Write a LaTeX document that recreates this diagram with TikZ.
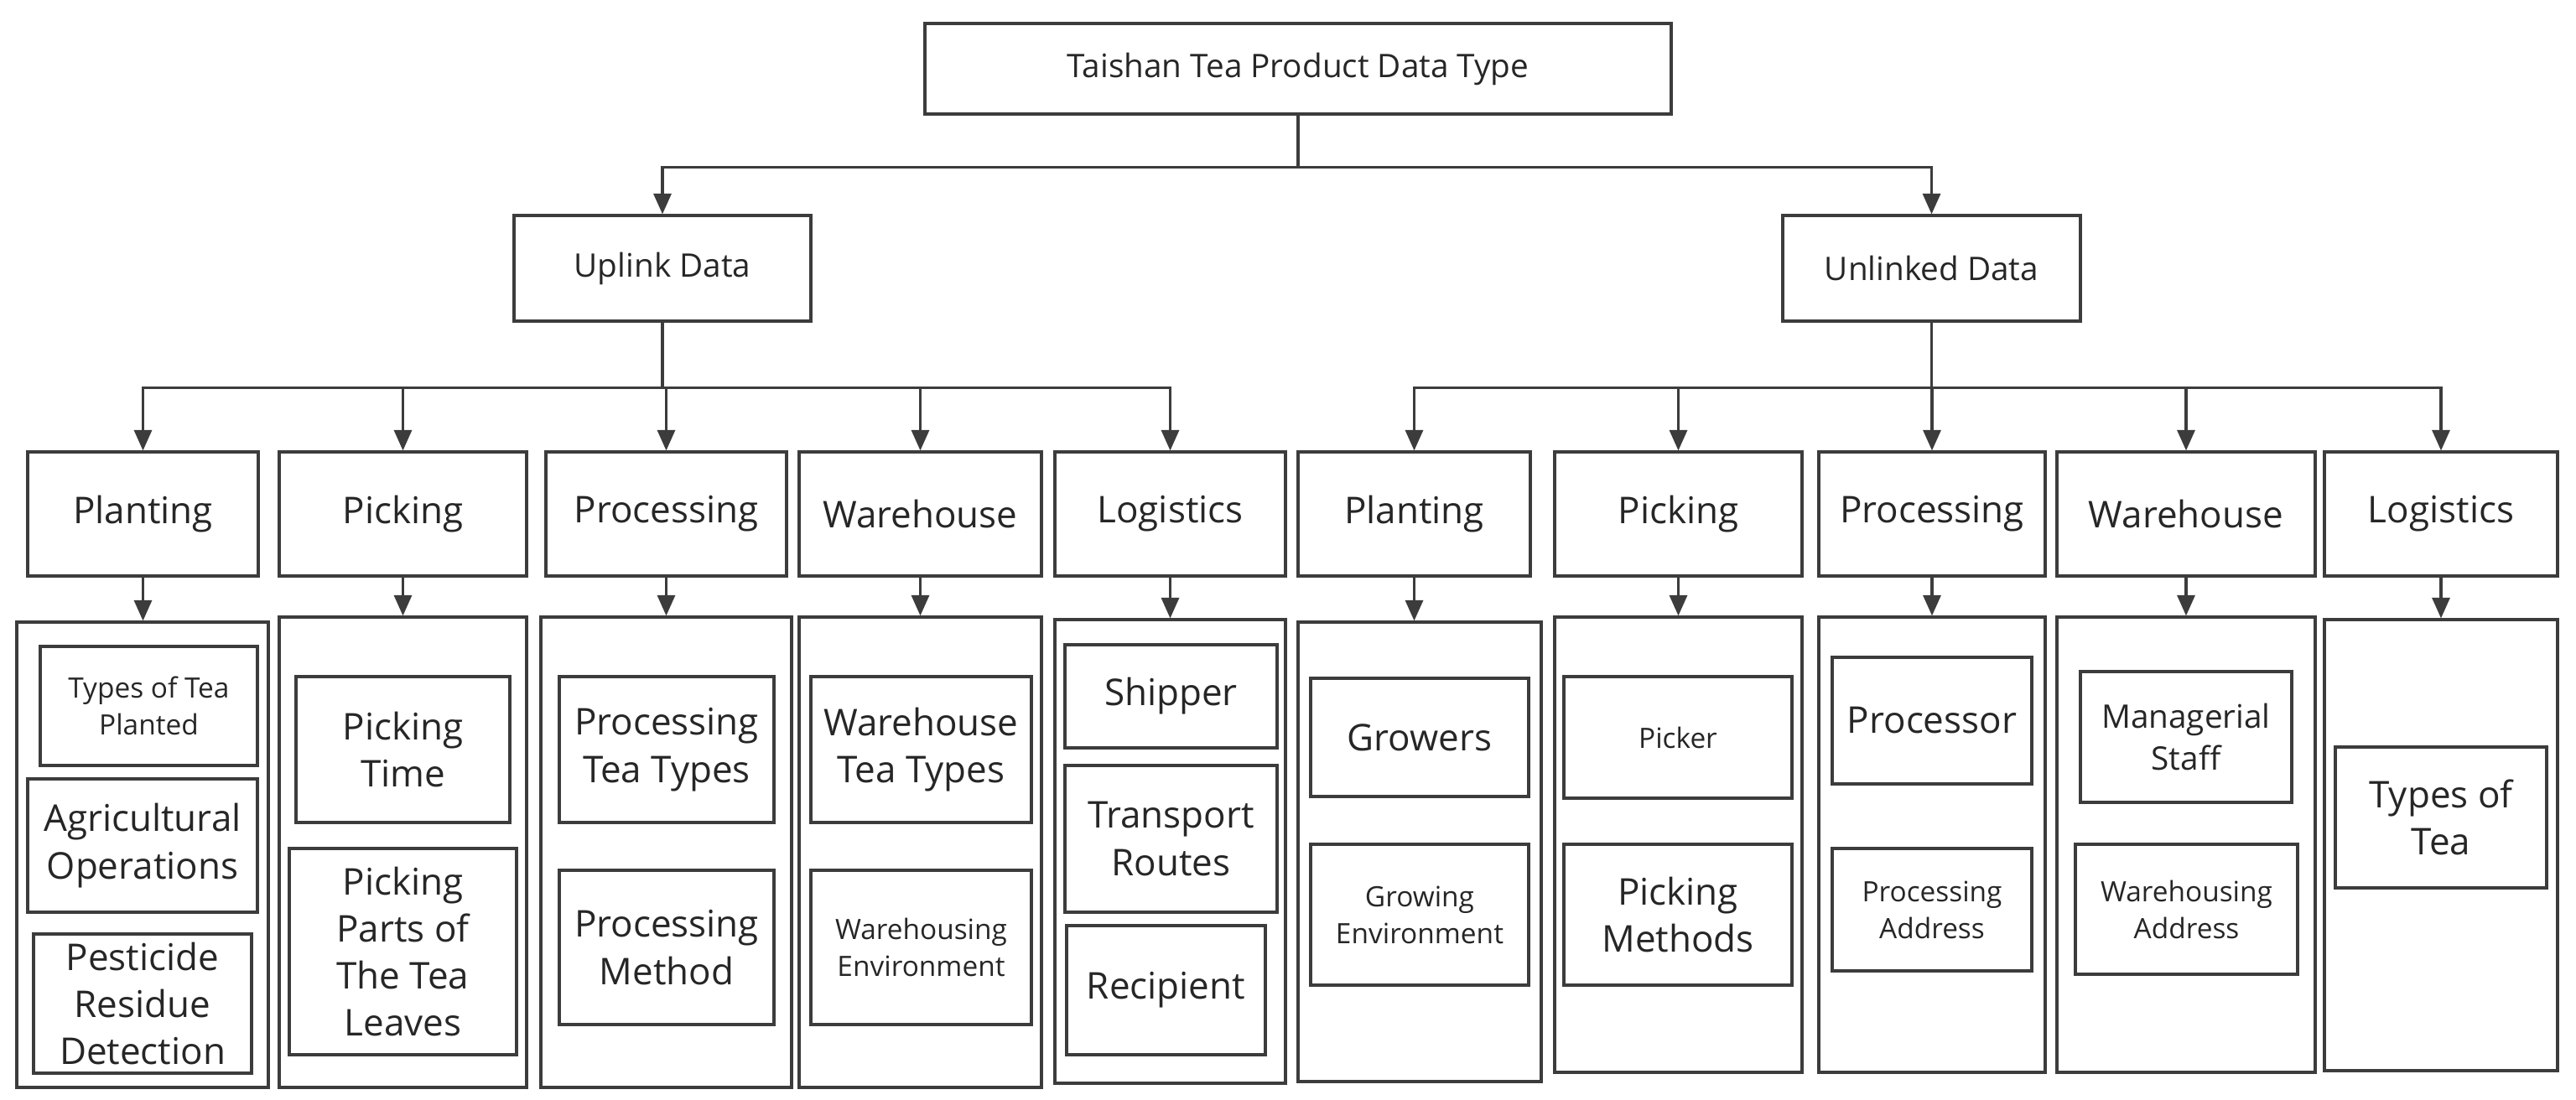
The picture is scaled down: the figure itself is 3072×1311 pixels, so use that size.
\documentclass[tikz,border=0pt]{standalone}
\usepackage{fontspec}
\setmainfont{Open Sans}
\usetikzlibrary{arrows.meta}
\definecolor{linegray}{RGB}{60,60,60}
\tikzset{
  box/.style = {rectangle, draw=linegray, line width=0.9pt, align=center, inner sep=0pt, text=black!85},
  arrow/.style = {draw=linegray, line width=0.9pt, -{Triangle[length=7pt,width=6pt]}},
  big/.style = {font=\fontsize{12.5}{16}\selectfont},
  mid/.style = {font=\fontsize{11}{14}\selectfont},
  small/.style = {font=\fontsize{9.5}{12.5}\selectfont}
}
% box from its corners in pixels of the reference
\newcommand{\bx}[7][big]{%
  \node[box,#1,minimum width={(#5-#3)*0.01cm},minimum height={(#6-#4)*0.01cm}]
    (#2) at ({(#3+#5)/2},{(#4+#6)/2}) {#7};}
\begin{document}
\begin{tikzpicture}[x=0.01cm,y=-0.01cm]
  \useasboundingbox (0,0) rectangle (3072,1311);
  % top levels
  \bx[mid]{root}{1103}{28}{1993}{136}{Taishan Tea Product Data Type}
  \bx[mid]{up}{613}{257}{967}{383}{Uplink Data}
  \bx[mid]{un}{2126}{257}{2481}{383}{Unlinked Data}
  \draw[arrow] (root.south) -- ++(0,62) -| (up.north);
  \draw[arrow] (root.south) -- ++(0,62) -| (un.north);
  % uplink stages
  \bx{lpl}{33}{539}{308}{687}{Planting}
  \bx{lpi}{333}{539}{628}{687}{Picking}
  \bx{lpr}{651}{539}{938}{687}{Processing}
  \bx{lwa}{953}{539}{1242}{687}{Warehouse}
  \bx{llo}{1258}{539}{1533}{687}{Logistics}
  % unlinked stages
  \bx{rpl}{1548}{539}{1825}{687}{Planting}
  \bx{rpi}{1854}{539}{2149}{687}{Picking}
  \bx{rpr}{2169}{539}{2439}{687}{Processing}
  \bx{rwa}{2453}{539}{2761}{687}{Warehouse}
  \bx{rlo}{2772}{539}{3050}{687}{Logistics}
  % containers
  \bx{lplc}{20}{742}{320}{1297}{}
  \bx{lpic}{333}{736}{628}{1297}{}
  \bx{lprc}{645}{736}{944}{1297}{}
  \bx{lwac}{953}{736}{1242}{1297}{}
  \bx{lloc}{1258}{739}{1533}{1292}{}
  \bx{rplc}{1548}{742}{1838}{1290}{}
  \bx{rpic}{1854}{736}{2149}{1279}{}
  \bx{rprc}{2169}{736}{2439}{1279}{}
  \bx{rwac}{2453}{736}{2761}{1279}{}
  \bx{rloc}{2772}{739}{3050}{1277}{}
  \foreach \s in {lpl,lpi,lpr,lwa,llo} {
    \draw[arrow] (up.south) -- ++(0,78) -| (\s.north);
    \draw[arrow] (\s.south) -- (\s.south |- \s c.north);
  }
  \foreach \s in {rpl,rpi,rpr,rwa,rlo} {
    \draw[arrow] (un.south) -- ++(0,78) -| (\s.north);
    \draw[arrow] (\s.south) -- (\s.south |- \s c.north);
  }
  % uplink items
  \bx[small]{tp}{48}{771}{307}{913}{Types of Tea\\Planted}
  \bx{ao}{33}{929}{307}{1088}{Agricultural\\Operations}
  \bx{prd}{40}{1114}{300}{1280}{Pesticide\\Residue\\Detection}
  \bx{pt}{353}{807}{608}{981}{Picking\\Time}
  \bx{pp}{345}{1012}{616}{1258}{Picking\\Parts of\\The Tea\\Leaves}
  \bx{ptt}{667}{807}{923}{981}{Processing\\Tea Types}
  \bx{pm}{667}{1038}{923}{1222}{Processing\\Method}
  \bx{wtt}{967}{807}{1230}{981}{Warehouse\\Tea Types}
  \bx[small]{we}{967}{1038}{1230}{1222}{Warehousing\\Environment}
  \bx{sh}{1270}{769}{1523}{892}{Shipper}
  \bx{tr}{1270}{913}{1523}{1088}{Transport\\Routes}
  \bx{re}{1272}{1104}{1509}{1258}{Recipient}
  % unlinked items
  \bx{gr}{1563}{809}{1823}{950}{Growers}
  \bx[small]{ge}{1563}{1007}{1823}{1175}{Growing\\Environment}
  \bx[small]{pk}{1865}{807}{2137}{952}{Picker}
  \bx{pme}{1865}{1007}{2137}{1175}{Picking\\Methods}
  \bx{pro}{2185}{784}{2423}{935}{Processor}
  \bx[small]{pa}{2185}{1012}{2423}{1158}{Processing\\Address}
  \bx[mid]{ms}{2481}{801}{2733}{957}{Managerial\\Staff}
  \bx[small]{wa}{2475}{1007}{2740}{1162}{Warehousing\\Address}
  \bx{tt}{2785}{891}{3037}{1059}{Types of\\Tea}
\end{tikzpicture}
\end{document}
